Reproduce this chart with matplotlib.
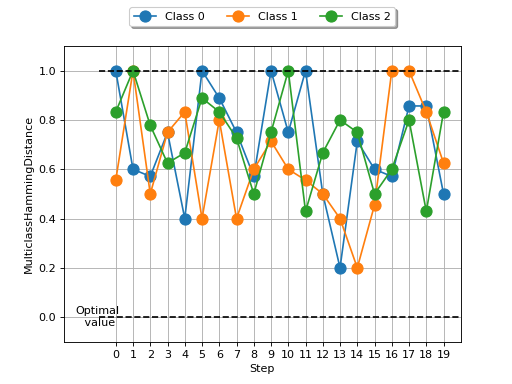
import matplotlib
matplotlib.use("Agg")
import matplotlib.pyplot as plt
import numpy as np

steps = list(range(20))
class0 = [1.0, 0.6, 0.571, 0.75, 0.4, 1.0, 0.889, 0.75, 0.571, 1.0,
          0.75, 1.0, 0.5, 0.2, 0.714, 0.6, 0.571, 0.857, 0.857, 0.5]
class1 = [0.556, 1.0, 0.5, 0.75, 0.833, 0.4, 0.8, 0.4, 0.6, 0.714,
          0.6, 0.556, 0.5, 0.4, 0.2, 0.455, 1.0, 1.0, 0.833, 0.625]
class2 = [0.833, 1.0, 0.778, 0.625, 0.667, 0.889, 0.833, 0.727, 0.5, 0.75,
          1.0, 0.429, 0.667, 0.8, 0.75, 0.5, 0.6, 0.8, 0.429, 0.833]
labels = ["Class 0", "Class 1", "Class 2"]

fig, ax = plt.subplots(figsize=(6.4, 4.8), dpi=80)
for vals, lab in zip([class0, class1, class2], labels):
    ax.plot(steps, vals, marker="o", markersize=10, label=lab)

ax.hlines(1.0, -1, 20, colors="black", linestyles="--", linewidth=1.5, zorder=3)
ax.hlines(0.0, -1, 20, colors="black", linestyles="--", linewidth=1.5, zorder=3)
ax.text(-1.05, 0.0, "Optimal\n value", ha="center", va="center")

ax.set_xlim(-3, 20)
ax.set_ylim(-0.1, 1.1)
ax.set_xticks(steps)
ax.set_yticks([0.0, 0.2, 0.4, 0.6, 0.8, 1.0])
ax.grid(True)
ax.set_xlabel("Step")
ax.set_ylabel("MulticlassHammingDistance")
ax.legend(loc="upper center", bbox_to_anchor=(0.5, 1.15), ncol=3, shadow=True, fancybox=True)

fig.savefig("out.png", dpi=80)
